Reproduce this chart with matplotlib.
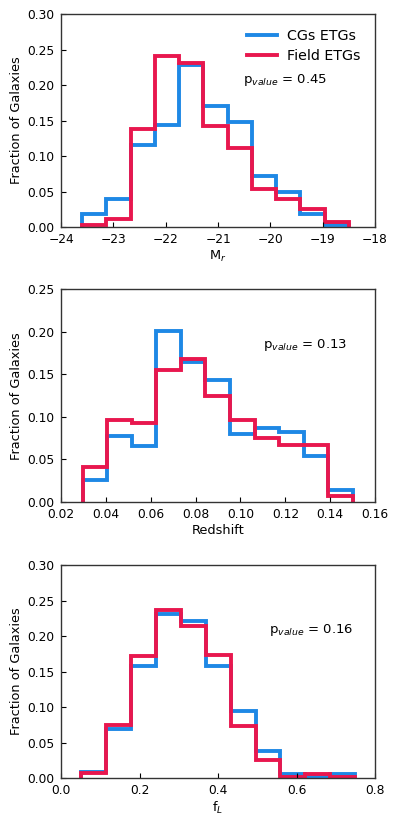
"""
Normalised histograms of CG and field early-type galaxies
"""

import numpy as np
import matplotlib
matplotlib.use('Agg')
import matplotlib.pyplot as plt

BLUE = '#1e88e5'
RED = '#e8174e'

# M_r panel
mr_edges = np.linspace(-23.6, -18.5, 12)
mr_cgs = [0.018, 0.040, 0.116, 0.144, 0.228, 0.171, 0.148, 0.072, 0.050, 0.018, 0.003]
mr_field = [0.003, 0.011, 0.138, 0.241, 0.231, 0.143, 0.112, 0.053, 0.040, 0.025, 0.007]

# redshift panel
z_edges = np.linspace(0.0297, 0.150, 12)
z_cgs = [0.026, 0.078, 0.066, 0.201, 0.165, 0.143, 0.080, 0.087, 0.082, 0.054, 0.014]
z_field = [0.041, 0.096, 0.093, 0.155, 0.168, 0.125, 0.096, 0.075, 0.067, 0.067, 0.007]

# f_L panel
fl_edges = np.linspace(0.05, 0.75, 12)
fl_cgs = [0.009, 0.069, 0.158, 0.231, 0.221, 0.158, 0.094, 0.038, 0.005, 0.002, 0.005]
fl_field = [0.007, 0.075, 0.172, 0.237, 0.215, 0.173, 0.073, 0.025, 0.002, 0.005, 0.002]

panels = [
    (mr_edges, mr_cgs, mr_field, r'M$_r$', (-24, -18), np.arange(-24, -17, 1), (0, 0.30), '0.45', (0.58, 0.69)),
    (z_edges, z_cgs, z_field, 'Redshift', (0.02, 0.16), np.arange(0.02, 0.161, 0.02), (0, 0.25), '0.13', (0.643, 0.737)),
    (fl_edges, fl_cgs, fl_field, r'f$_L$', (0.0, 0.8), np.arange(0.0, 0.81, 0.2), (0, 0.30), '0.16', (0.662, 0.695)),
]
bottoms = [0.7242, 0.390, 0.0547]

fig = plt.figure(figsize=(3.99, 8.23), dpi=100)
for i, (edges, cgs, field, xlabel, xlim, xticks, ylim, pval, ppos) in enumerate(panels):
    ax = fig.add_axes([0.153, bottoms[i], 0.787, 0.2585])
    ax.stairs(cgs, edges, color=BLUE, lw=2.8, label='CGs ETGs')
    ax.stairs(field, edges, color=RED, lw=2.8, label='Field ETGs')
    ax.set_xlim(*xlim)
    ax.set_ylim(*ylim)
    ax.set_xticks(xticks)
    ax.set_yticks(np.arange(0, ylim[1] + 0.001, 0.05))
    if i == 0:
        ax.set_xticklabels(['\u2212%d' % abs(t) for t in xticks])
    elif i == 1:
        ax.set_xticklabels(['%.2f' % t for t in xticks])
    else:
        ax.set_xticklabels(['%.1f' % t for t in xticks])
    ax.set_yticklabels(['%.2f' % t for t in ax.get_yticks()])
    ax.tick_params(direction='in', labelsize=8.8, length=3.5, width=0.8, pad=4.5)
    for sp in ax.spines.values():
        sp.set_color('#333333')
        sp.set_linewidth(1.0)
    ax.set_xlabel(xlabel, fontsize=9.3, labelpad=2)
    ax.set_ylabel('Fraction of Galaxies', fontsize=9.3, labelpad=3)
    ax.text(ppos[0], ppos[1], r'p$_{value}$ = ' + pval, transform=ax.transAxes,
            fontsize=9.5, va='center')
    if i == 0:
        ax.legend(loc='upper right', frameon=False, fontsize=10.3, handlelength=2.1,
                  borderaxespad=0.6, labelspacing=0.45, handletextpad=0.7)

fig.savefig('out.png', dpi=100)
